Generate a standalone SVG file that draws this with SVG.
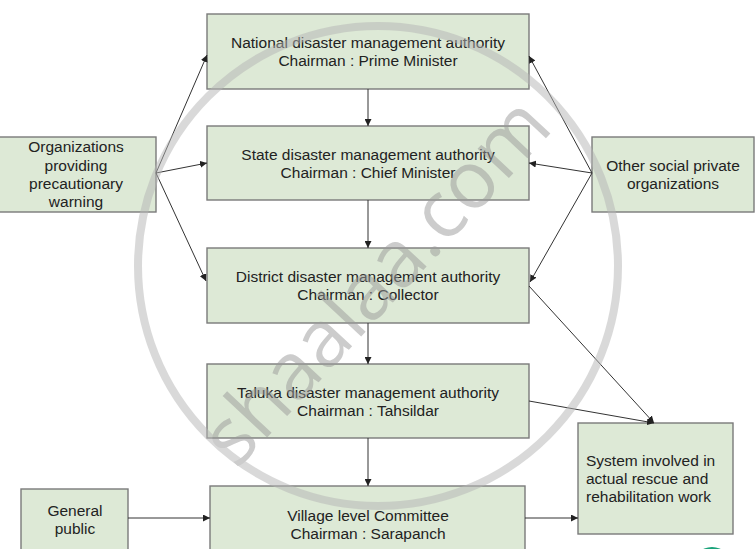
<svg xmlns="http://www.w3.org/2000/svg" width="755" height="549" viewBox="0 0 755 549">
<defs>
<style>
.box{fill:#dde9d6;stroke:#7a7a7a;stroke-width:1.4}
.t{font-family:"Liberation Sans",Arial,sans-serif;font-size:15.5px;fill:#222;text-anchor:middle}
.tl{font-family:"Liberation Sans",Arial,sans-serif;font-size:15.5px;fill:#222;text-anchor:start}
.c{stroke:#333;stroke-width:1;fill:none;marker-end:url(#ah)}
</style>
<marker id="ah" viewBox="0 0 10 10" refX="10" refY="5" markerWidth="7" markerHeight="7" markerUnits="userSpaceOnUse" orient="auto">
<path d="M0,0 L10,5 L0,10 z" fill="#222"/>
</marker>
</defs>
<rect width="755" height="549" fill="#fff"/>
<g id="national"><rect class="box" x="207" y="14" width="322" height="75"/>
<text class="t" x="368" y="48">National disaster management authority</text>
<text class="t" x="368" y="66">Chairman : Prime Minister</text></g>
<g id="state"><rect class="box" x="207" y="126" width="322" height="74"/>
<text class="t" x="368" y="160">State disaster management authority</text>
<text class="t" x="368" y="178">Chairman : Chief Minister</text></g>
<g id="district"><rect class="box" x="207" y="248" width="322" height="75"/>
<text class="t" x="368" y="282">District disaster management authority</text>
<text class="t" x="368" y="300">Chairman : Collector</text></g>
<g id="taluka"><rect class="box" x="207" y="364" width="322" height="74"/>
<text class="t" x="368" y="398">Taluka disaster management authority</text>
<text class="t" x="368" y="416">Chairman : Tahsildar</text></g>
<g id="village"><rect class="box" x="210" y="486" width="315" height="70"/>
<text class="t" x="368" y="521">Village level Committee</text>
<text class="t" x="368" y="539">Chairman : Sarapanch</text></g>
<g id="organizations"><rect class="box" x="-2" y="137" width="158" height="75"/>
<text class="t" x="76" y="152">Organizations</text>
<text class="t" x="76" y="171">providing</text>
<text class="t" x="76" y="189">precautionary</text>
<text class="t" x="76" y="207">warning</text></g>
<g id="other"><rect class="box" x="592" y="137" width="162" height="75"/>
<text class="t" x="673" y="171">Other social private</text>
<text class="t" x="673" y="189">organizations</text></g>
<g id="general"><rect class="box" x="21" y="489" width="107" height="64"/>
<text class="t" x="75" y="516">General</text>
<text class="t" x="75" y="534">public</text></g>
<g id="system"><rect class="box" x="578" y="423" width="155" height="111"/>
<text class="tl" x="586" y="466">System involved in</text>
<text class="tl" x="586" y="484">actual rescue and</text>
<text class="tl" x="586" y="502">rehabilitation work</text></g>
<g id="connectors">
<line class="c" x1="368" y1="89" x2="368" y2="126"/>
<line class="c" x1="368" y1="200" x2="368" y2="248"/>
<line class="c" x1="368" y1="323" x2="368" y2="364"/>
<line class="c" x1="368" y1="438" x2="368" y2="486"/>
<line class="c" x1="156" y1="173" x2="207" y2="55"/>
<line class="c" x1="156" y1="173" x2="207" y2="163"/>
<line class="c" x1="156" y1="173" x2="206" y2="281"/>
<line class="c" x1="592" y1="173" x2="529" y2="56"/>
<line class="c" x1="592" y1="173" x2="529" y2="163"/>
<line class="c" x1="592" y1="173" x2="530" y2="282"/>
<line class="c" x1="529" y1="286" x2="654" y2="423"/>
<line class="c" x1="529" y1="401" x2="654" y2="423"/>
<line class="c" x1="525" y1="518" x2="578" y2="518"/>
<line class="c" x1="128" y1="518" x2="210" y2="518"/>
</g>
<g id="watermark" opacity="0.5">
<circle cx="378" cy="266" r="240" fill="none" stroke="#b5b5b5" stroke-width="8"/>
<text x="0" y="0" transform="translate(380,285) rotate(-47)" font-family="'Open Sans','DejaVu Sans',sans-serif" font-size="80" fill="#9a9a9a" text-anchor="middle" dominant-baseline="middle">shaalaa.com</text>
</g>
<circle cx="712" cy="567" r="20" fill="#1aa37a"/>
</svg>
